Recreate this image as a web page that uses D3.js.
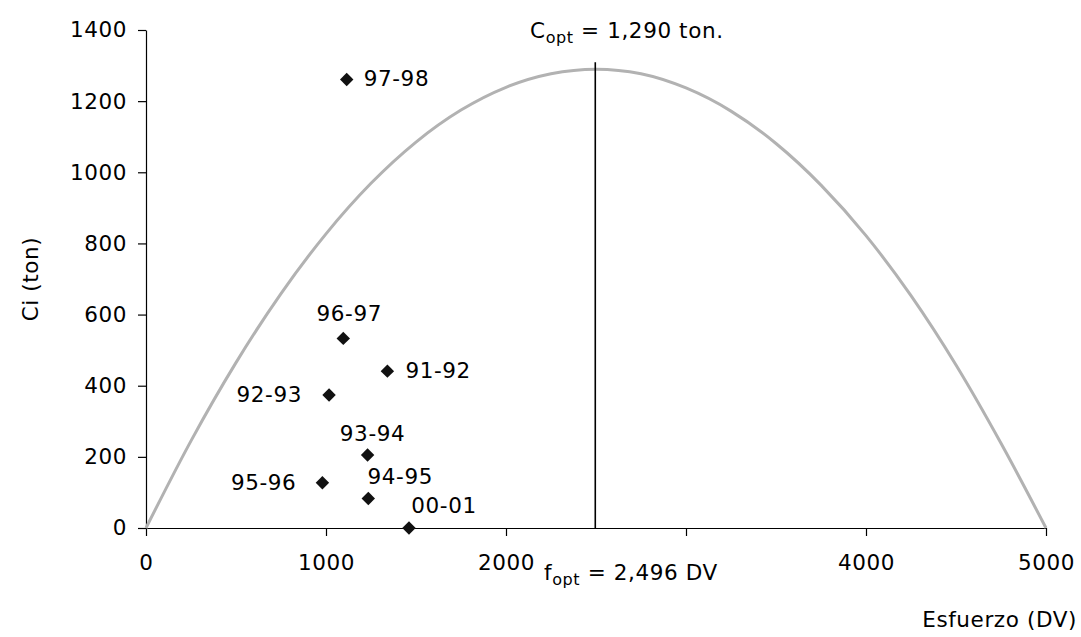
<!DOCTYPE html>
<html>
<head>
<meta charset="utf-8">
<script src="https://cdn.jsdelivr.net/npm/d3@7"></script>
<style>
  html, body { margin: 0; padding: 0; background: #fff; }
  svg text { font-family: "DejaVu Sans", Verdana, sans-serif; fill: #000; letter-spacing: 0.6px; }
</style>
</head>
<body>
<svg id="chart" width="1081" height="637"></svg>
<script>
// Surplus-production curve (effort in DV, catch in tons)
const curveEffort = [0, 250, 500, 750, 1000, 1250, 1500, 1750, 2000, 2250, 2500,
                     2750, 3000, 3250, 3500, 3750, 4000, 4250, 4500, 4750, 5000];
const curveCatch  = [0, 245, 465, 659, 827, 969, 1085, 1175, 1239, 1277, 1290,
                     1277, 1237, 1172, 1081, 964, 822, 653, 458, 238, 0];

// Observed seasons
const seasons      = ["97-98", "96-97", "91-92", "92-93", "93-94", "95-96", "94-95", "00-01"];
const seasonEffort = [1115, 1096, 1341, 1017, 1231, 980, 1235, 1461];
const seasonCatch  = [1261, 533, 441, 374, 205, 127, 83, 0];
// label offset from each marker, in pixels
const labelDx      = [17, 6, 18, -27, 5, -26, 32, 35];
const labelDy      = [7, -17, 7, 7, -14, 7, -14, -15];
const labelAnchor  = ["start", "middle", "start", "end", "middle", "end", "middle", "middle"];

// Optimum values
const fOpt = 2496;
const cOpt = 1290;

// Axis ticks
const xTicks = [0, 1000, 2000, 3000, 4000, 5000];
const xTickLabels = ["0", "1000", "2000", "", "4000", "5000"];
const yTicks = [0, 200, 400, 600, 800, 1000, 1200, 1400];

const svg = d3.select("#chart");
const x = d3.scaleLinear().domain([0, 5000]).range([146, 1046]);
const y = d3.scaleLinear().domain([0, 1400]).range([528, 30]);

const fs = 21.5;

// x axis
const xAxis = d3.axisBottom(x).tickValues(xTicks).tickSize(8).tickSizeOuter(0)
  .tickFormat((d, i) => xTickLabels[i]);
const gx = svg.append("g").attr("transform", `translate(0,${y(0)})`).call(xAxis);
gx.select(".domain").attr("stroke", "#000").attr("stroke-width", 1.2);
gx.selectAll(".tick line").attr("stroke", "#000").attr("stroke-width", 1.2);
gx.selectAll(".tick text").attr("font-size", fs).attr("dy", null).attr("y", 42)
  .attr("font-family", "DejaVu Sans").attr("fill", "#000");

// y axis
const yAxis = d3.axisLeft(y).tickValues(yTicks).tickSize(8).tickSizeOuter(0)
  .tickFormat(d3.format("d"));
const gy = svg.append("g").attr("transform", `translate(${x(0)},0)`).call(yAxis);
gy.select(".domain").attr("stroke", "#000").attr("stroke-width", 1.2);
gy.selectAll(".tick text").attr("font-size", fs).attr("x", -19)
  .attr("font-family", "DejaVu Sans").attr("fill", "#000");
gy.selectAll(".tick line").attr("stroke", "#000").attr("stroke-width", 1.2);

// production curve
const curvePts = curveEffort.map((f, i) => [f, curveCatch[i]]);
svg.append("path")
  .datum(curvePts)
  .attr("fill", "none")
  .attr("stroke", "#b2b2b2")
  .attr("stroke-width", 3)
  .attr("stroke-linejoin", "round")
  .attr("d", d3.line().x(d => x(d[0])).y(d => y(d[1])).curve(d3.curveMonotoneX));

// optimum effort line
svg.append("line")
  .attr("x1", x(fOpt)).attr("x2", x(fOpt))
  .attr("y1", y(cOpt) - 7).attr("y2", y(0))
  .attr("stroke", "#000").attr("stroke-width", 1.6);

// season markers
const diamond = d3.symbol().type(d3.symbolDiamond2).size(115);
svg.append("g").selectAll("path")
  .data(seasons)
  .join("path")
  .attr("transform", (d, i) => `translate(${x(seasonEffort[i])},${y(seasonCatch[i])})`)
  .attr("d", diamond)
  .attr("fill", "#111");

// season labels
svg.append("g").selectAll("text")
  .data(seasons)
  .join("text")
  .attr("font-size", fs)
  .attr("x", (d, i) => x(seasonEffort[i]) + labelDx[i])
  .attr("y", (d, i) => y(seasonCatch[i]) + labelDy[i])
  .attr("text-anchor", (d, i) => labelAnchor[i])
  .text(d => d);

// optimum catch annotation
const tC = svg.append("text").attr("font-size", fs).attr("x", 530).attr("y", 38);
tC.append("tspan").text("C");
tC.append("tspan").attr("font-size", 16).attr("dy", 5).text("opt");
tC.append("tspan").attr("dy", -5).text(" = " + d3.format(",")(cOpt) + " ton.");

// optimum effort annotation
const tF = svg.append("text").attr("font-size", fs).attr("x", 544).attr("y", 580);
tF.append("tspan").text("f");
tF.append("tspan").attr("font-size", 16).attr("dy", 5).text("opt");
tF.append("tspan").attr("dy", -5).text(" = " + d3.format(",")(fOpt) + " DV");

// axis titles
svg.append("text").attr("font-size", fs).attr("text-anchor", "end")
  .attr("x", 1077).attr("y", 627).text("Esfuerzo (DV)");
svg.append("text").attr("font-size", fs).attr("text-anchor", "middle")
  .attr("transform", "translate(38,279) rotate(-90)").text("Ci (ton)");
</script>
</body>
</html>
